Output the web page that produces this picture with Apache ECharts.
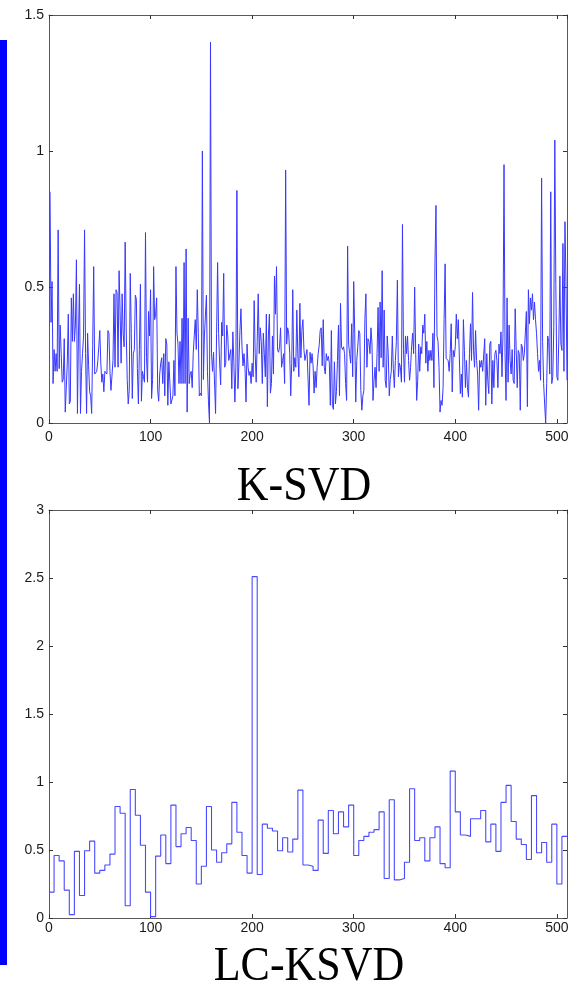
<!DOCTYPE html>
<html><head><meta charset="utf-8">
<script src="https://cdn.jsdelivr.net/npm/echarts@6/dist/echarts.min.js"></script>
<style>html,body{margin:0;padding:0;background:#fff}#c{width:583px;height:985px}</style>
</head><body><div id="c"></div>
<script>
// ---- data ----
const xTicks = [0, 100, 200, 300, 400, 500];
const ksvdYTicks = [0, 0.5, 1, 1.5];
const lcYTicks = [0, 0.5, 1, 1.5, 2, 2.5, 3];
const titles = ['K-SVD', 'LC-KSVD'];

// K-SVD values, x = 1..510
const ksvdPart1 = [0.85,0.37,0.52,0.145,0.27,0.19,0.255,0.19,0.71,0.20,
0.36,0.255,0.15,0.16,0.31,0.04,0.04,0.22,0.40,0.07,
0.08,0.46,0.30,0.475,0.30,0.36,0.60,0.035,0.32,0.51,
0.035,0.19,0.255,0.32,0.71,0.255,0.035,0.33,0.21,0.115,
0.10,0.035,0.285,0.575,0.18,0.18,0.19,0.225,0.28,0.34,0.22,0.15,
0.18,0.115,0.19,0.19,0.18,0.34,0.33,0.19,0.12,0.12,
0.23,0.475,0.205,0.49,0.48,0.205,0.56,0.41,0.22,0.475,
0.33,0.28,0.665,0.35,0.16,0.07,0.12,0.55,0.33,0.09,0.255,
0.27,0.47,0.455,0.20,0.07,0.27,0.51,0.08,0.19,0.17,
0.15,0.70,0.24,0.15,0.41,0.32,0.49,0.09,0.16,0.575,
0.38,0.40,0.46,0.12,0.08,0.18,0.22,0.24,0.145,0.255,0.10,
0.31,0.29,0.065,0.225,0.15,0.07,0.07,0.10,0.23,0.10,
0.575,0.33,0.29,0.145,0.30,0.145,0.385,0.145,0.59,0.145,
0.64,0.04,0.385,0.145,0.18,0.19,0.13,0.255,0.32,0.38,0.27,0.49,0.33,0.10,0.11,0.10];
const ksvdPart2 = [1.00,0.16,0.32,0.32,0.47,0.19,0.08,0.0,1.40,0.255,0.19,0.26,0.255,0.035,0.33,0.59,0.33,0.22,0.14,0.37,0.32,0.55,0.205,0.22,0.36,0.32,0.23,0.23,0.27,0.126,0.335,0.225,0.077,0.205,0.855,
0.126,0.22,0.34,0.42,0.28,0.21,0.255,0.20,0.077,0.29,
0.205,0.175,0.19,0.145,0.22,0.17,0.45,0.255,0.15,0.30,
0.475,0.255,0.35,0.30,0.145,0.33,0.255,0.17,0.40,0.06,
0.32,0.40,0.11,0.145,0.32,0.18,0.54,0.40,0.575,0.27,
0.26,0.28,0.35,0.205,0.23,0.255,0.145,0.93,
0.29,0.35,0.33,0.255,0.10,0.22,0.49,0.19,0.24,0.205,
0.415,0.25,0.17,0.44,0.24,0.34,0.38,0.27,0.23,0.23,
0.27,0.27,0.065,0.26,0.22,0.255,0.21,0.11,0.19,0.13,
0.205,0.255,0.285,0.34,0.35,0.21,0.38,0.205,0.18,0.255,
0.23,0.245,0.22,0.065,0.34,0.065,0.05,0.225,0.07,0.115,
0.23,0.36,0.10,0.44,0.28,0.27,0.28,0.255,0.145,0.083,
0.65,0.29,0.255,0.22,0.365,0.17,0.52,0.33,0.077,0.23,
0.28,0.34,0.33,0.12,0.047,0.10,0.12,0.38,0.475,0.205,
0.31,0.30,0.255,0.35,0.29,0.083,0.157,0.205,0.13,0.255,
0.425,0.19,0.445,0.24,0.56,0.205,0.415,0.157,0.13,0.32,0.255];
const ksvdPart3 = [0.10,0.16,0.19,0.32,0.20,0.13,0.23,0.30,0.525,0.17,0.22,0.205,0.15,0.73,
0.27,0.15,0.32,0.255,0.32,0.23,0.157,0.205,0.28,0.33,0.255,0.50,0.267,0.083,0.157,0.29,0.19,0.28,0.255,0.36,0.33,0.40,0.22,0.30,0.19,0.267,0.23,0.267,0.23,0.33,0.13,0.585,0.80,
0.32,0.30,0.205,0.04,0.083,0.065,0.13,0.38,0.585,0.237,
0.23,0.23,0.19,0.255,0.365,0.114,0.267,0.243,0.28,0.40,
0.31,0.38,0.243,0.108,0.18,0.095,0.38,0.267,0.13,0.23,
0.13,0.095,0.255,0.365,0.23,0.48,0.267,0.205,0.34,0.23,
0.18,0.047,0.23,0.205,0.23,0.19,0.19,0.31,0.065,0.255,
0.157,0.108,0.29,0.30,0.07,0.23,0.13,0.255,0.267,0.23,
0.13,0.29,0.255,0.335,0.17,0.33,0.95,
0.255,0.083,0.46,0.15,0.36,0.23,0.18,0.27,0.157,0.145,
0.42,0.267,0.13,0.267,0.255,0.047,0.29,0.28,0.23,0.255,
0.255,0.41,0.06,0.49,0.365,0.46,0.415,0.475,0.38,0.445,
0.38,0.33,0.255,0.19,0.23,0.157,0.90,
0.30,0.145,0.07,0.0,0.145,0.32,0.30,0.18,0.85,0.145,0.17,0.35,1.04,0.51,0.17,0.157,0.32,0.54,0.29,0.267,0.66,0.19,0.74,0.52,0.157];

// LC-KSVD stair values, one per block of 5 samples
const lcStep = 5;
const lcValues = [0.19,0.46,0.42,0.205,0.025,0.49,0.165,0.495,0.565,0.33,
0.35,0.39,0.47,0.82,0.77,0.09,0.945,0.755,0.535,0.19,
0.01,0.455,0.61,0.40,0.83,0.525,0.62,0.665,0.57,0.25,
0.38,0.82,0.50,0.41,0.48,0.545,0.85,0.63,0.46,0.33,
2.51,0.32,0.69,0.66,0.64,0.495,0.59,0.485,0.58,0.94,
0.39,0.38,0.35,0.72,0.475,0.79,0.62,0.78,0.67,0.83,
0.46,0.57,0.60,0.63,0.65,0.78,0.29,0.87,0.28,0.29,
0.41,0.95,0.57,0.59,0.42,0.59,0.67,0.40,0.37,1.08,
0.78,0.61,0.60,0.73,0.73,0.79,0.56,0.69,0.49,0.85,
0.975,0.71,0.58,0.54,0.43,0.90,0.48,0.555,0.41,0.69,
0.25,0.60];
const xMax = 510;

// ---- build ----
const ksvd = ksvdPart1.concat(ksvdPart2, ksvdPart3);
const ksvdData = ksvd.map((v, i) => [i + 1, v]);
const lcData = lcValues.map((v, i) => [i * lcStep, v]);
lcData.push([xMax, lcValues[lcValues.length - 1]]);

const frame = '#5a5a5a';
const labelFont = {color: '#1a1a1a', fontSize: 14, fontFamily: 'Liberation Sans, Arial, sans-serif'};

function xAxes(grid, margin) {
  const base = {
    gridIndex: grid, type: 'value', min: 0, max: xMax, interval: 100,
    axisLine: {show: true, onZero: false, lineStyle: {color: frame, width: 1}},
    axisTick: {show: true, inside: true, length: 4, lineStyle: {color: '#333'}},
    splitLine: {show: false}
  };
  return [
    Object.assign({}, base, {position: 'bottom',
      axisLabel: Object.assign({margin: margin, showMaxLabel: false,
        formatter: v => xTicks.includes(v) ? String(v) : ''}, labelFont)}),
    Object.assign({}, base, {position: 'top', axisLabel: {show: false}})
  ];
}
function yAxes(grid, ticks) {
  const base = {
    gridIndex: grid, type: 'value', min: ticks[0], max: ticks[ticks.length - 1], interval: 0.5,
    axisLine: {show: true, onZero: false, lineStyle: {color: frame, width: 1}},
    axisTick: {show: true, inside: true, length: 4, lineStyle: {color: '#333'}},
    splitLine: {show: false}
  };
  return [
    Object.assign({}, base, {position: 'left',
      axisLabel: Object.assign({margin: 5, formatter: v => String(v)}, labelFont)}),
    Object.assign({}, base, {position: 'right', axisLabel: {show: false}})
  ];
}

const titleFont = '44px "Liberation Serif", "Times New Roman", serif';
const chart = echarts.init(document.getElementById('c'), null, {renderer: 'canvas'});
chart.setOption({
  animation: false,
  backgroundColor: '#fff',
  grid: [
    {left: 49, right: 16, top: 15, height: 408},
    {left: 49, right: 16, top: 510, height: 408}
  ],
  xAxis: xAxes(0, 7).concat(xAxes(1, 3)),
  yAxis: yAxes(0, ksvdYTicks).concat(yAxes(1, lcYTicks)),
  series: [
    {type: 'line', xAxisIndex: 0, yAxisIndex: 0, data: ksvdData, showSymbol: false,
     lineStyle: {color: '#3838ff', width: 1}},
    {type: 'line', xAxisIndex: 2, yAxisIndex: 2, data: lcData, showSymbol: false, step: 'end',
     lineStyle: {color: '#4a4aff', width: 1.1}}
  ],
  graphic: [
    {type: 'rect', shape: {x: 0, y: 40, width: 7, height: 925}, style: {fill: '#0000ff'}},
    {type: 'text', x: 304, y: 487, scaleY: 1.12, style: {text: titles[0], x: 0, y: 0, textAlign: 'center', textVerticalAlign: 'middle',
      font: titleFont, fill: '#000'}},
    {type: 'text', x: 309, y: 967, scaleY: 1.12, style: {text: titles[1], x: 0, y: 0, textAlign: 'center', textVerticalAlign: 'middle',
      font: titleFont, fill: '#000'}}
  ]
});
</script></body></html>
